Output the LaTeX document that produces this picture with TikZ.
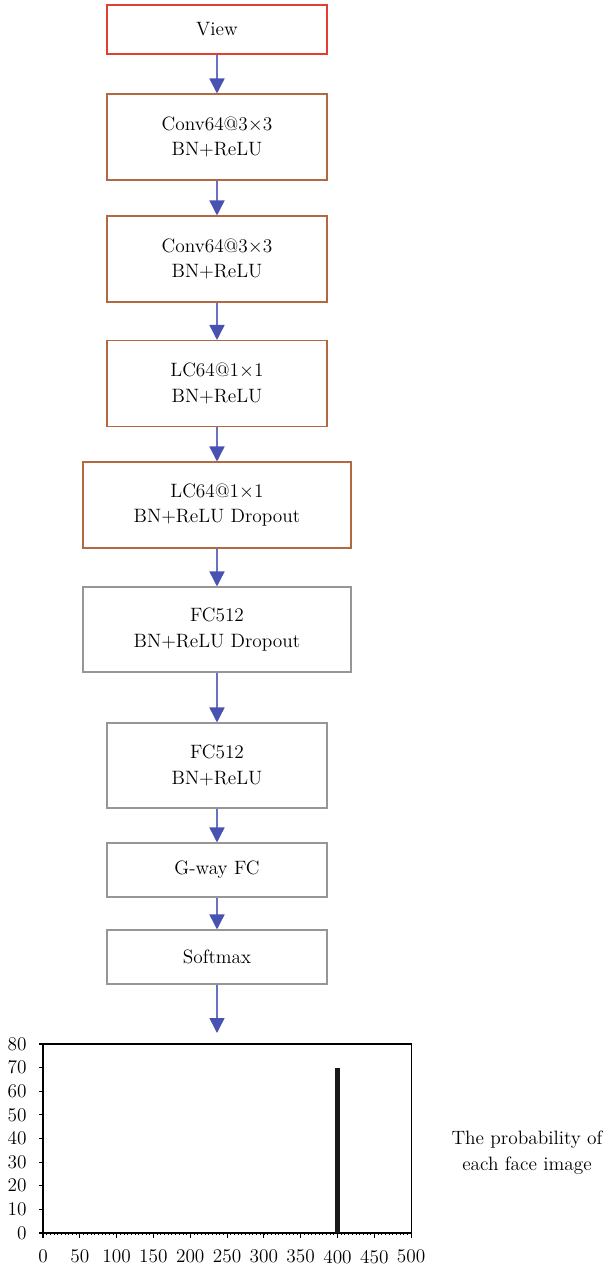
\documentclass[tikz,border=0pt]{standalone}
\usepackage{tikz}
\usetikzlibrary{shapes,arrows,arrows.meta,positioning}
\definecolor{viewred}{RGB}{226,62,52}
\definecolor{convbrown}{RGB}{178,104,66}
\definecolor{fcgray}{RGB}{150,150,150}
\definecolor{flowblue}{RGB}{72,82,176}
\definecolor{flowline}{RGB}{104,114,196}
\tikzstyle{redblock}=[rectangle, draw=viewred, semithick, align=center, minimum width=44mm, minimum height=9.8mm]
\tikzstyle{brownblock}=[rectangle, draw=convbrown, semithick, align=center, minimum width=44mm, minimum height=17.2mm]
\tikzstyle{widebrownblock}=[brownblock, minimum width=53.6mm]
\tikzstyle{grayblock}=[rectangle, draw=fcgray, semithick, align=center, minimum width=44mm, minimum height=17mm]
\tikzstyle{widegrayblock}=[grayblock, minimum width=53.6mm]
\tikzstyle{smallgrayblock}=[grayblock, minimum height=10.8mm]
\tikzstyle{flow}=[draw=flowline, line width=0.85pt, -{Triangle[width=3mm,length=3mm,color=flowblue]}]

\begin{document}
\begin{tikzpicture}[every node/.style = {font=\fontsize{11}{14.7}\selectfont}]
\useasboundingbox (0,0) rectangle (12.2,-25.34);

\node[redblock](p1) at (4.34,-0.59) {View};
\node[brownblock](p2) at (4.34,-2.74) {Conv64@3$\times$3\\BN+ReLU};
\node[brownblock](p3) at (4.34,-5.18) {Conv64@3$\times$3\\BN+ReLU};
\node[brownblock](p4) at (4.34,-7.67) {LC64@1$\times$1\\BN+ReLU};
\node[widebrownblock](p5) at (4.34,-10.10) {LC64@1$\times$1\\BN+ReLU Dropout};
\node[widegrayblock](p6) at (4.34,-12.59) {FC512\\BN+ReLU Dropout};
\node[grayblock](p7) at (4.34,-15.31) {FC512\\BN+ReLU};
\node[smallgrayblock](p8) at (4.34,-17.40) {G-way FC};
\node[smallgrayblock](p9) at (4.34,-19.14) {Softmax};
\coordinate (plottop) at (4.34,-20.66);
\node[align=center] (prob) at (10.54,-23.05) {The probability of\\each face image};

\draw[flow](p1.south) -- (p2.north);
\draw[flow](p2.south) -- (p3.north);
\draw[flow](p3.south) -- (p4.north);
\draw[flow](p4.south) -- (p5.north);
\draw[flow](p5.south) -- (p6.north);
\draw[flow](p6.south) -- (p7.north);
\draw[flow](p7.south) -- (p8.north);
\draw[flow](p8.south) -- (p9.north);
\draw[flow](p9.south) -- (plottop);

% output histogram
\begin{scope}[shift={(0.86,-24.66)}, x=0.01472cm, y=0.04725cm]
\foreach \x in {5,10,...,495} \draw[thin] (\x,0) -- ++(0,-0.04cm);
\draw[semithick] (0,0) rectangle (500,80);
\foreach \y in {0,10,...,80} \draw[semithick] (0,\y) -- ++(-0.09cm,0) node[left, inner sep=0pt, xshift=-0.23cm] (yl\y) {\y};
\foreach \x in {0,50,...,500} \draw[semithick] (\x,0) -- ++(0,-0.1cm) node[below, inner sep=0pt, yshift=-0.23cm] (xl\x) {\x};
\fill[black!90] ([xshift=-0.05cm]400,0) rectangle ([xshift=0.05cm]400,70);
\end{scope}

\end{tikzpicture}
\end{document}
